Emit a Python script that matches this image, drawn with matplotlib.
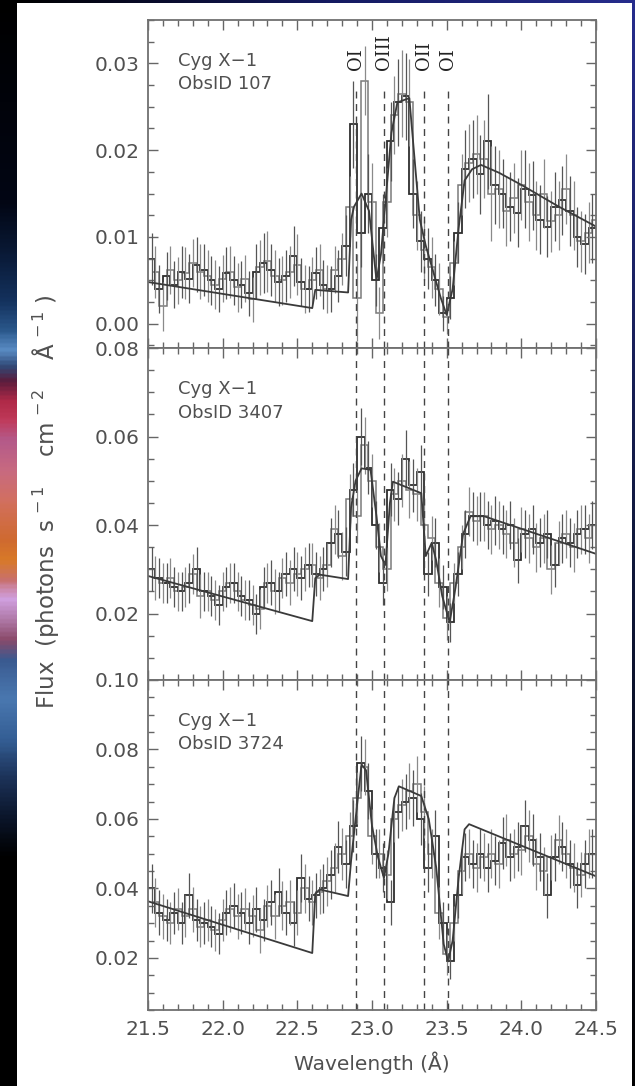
import numpy as np
import matplotlib.pyplot as plt
from matplotlib.colors import LinearSegmentedColormap
from matplotlib.ticker import MultipleLocator, FormatStrFormatter

# bin centres (Angstrom) of the two interleaved grating spectra
wave_a = np.round(np.arange(21.525, 24.5, 0.05), 3)
wave_b = np.round(np.arange(21.55, 24.51, 0.05), 3)

# ObsID 107
flux107_a = [0.0075, 0.0040, 0.0055, 0.0045, 0.0060, 0.0052, 0.0068, 0.0062, 0.0050, 0.0040,
             0.0058, 0.0050, 0.0045, 0.0035, 0.0060, 0.0070, 0.0062, 0.0048, 0.0055, 0.0078,
             0.0048, 0.0040, 0.0058, 0.0045, 0.0040, 0.0055, 0.0090, 0.0230, 0.0105, 0.0150,
             0.0050, 0.0110, 0.0210, 0.0255, 0.0262, 0.0150, 0.0095, 0.0075, 0.0050, 0.0012,
             0.0030, 0.0105, 0.0178, 0.0190, 0.0172, 0.0210, 0.0160, 0.0150, 0.0135, 0.0128,
             0.0155, 0.0148, 0.0120, 0.0112, 0.0135, 0.0142, 0.0130, 0.0100, 0.0092, 0.0110]
flux107_b = [0.0060, 0.0020, 0.0062, 0.0050, 0.0058, 0.0070, 0.0060, 0.0055, 0.0045, 0.0052,
             0.0060, 0.0042, 0.0052, 0.0028, 0.0065, 0.0072, 0.0055, 0.0050, 0.0060, 0.0068,
             0.0040, 0.0050, 0.0062, 0.0040, 0.0062, 0.0075, 0.0135, 0.0030, 0.0280, 0.0140,
             0.0012, 0.0140, 0.0240, 0.0265, 0.0255, 0.0125, 0.0085, 0.0065, 0.0040, 0.0008,
             0.0070, 0.0160, 0.0185, 0.0195, 0.0190, 0.0150, 0.0155, 0.0130, 0.0145, 0.0160,
             0.0140, 0.0125, 0.0150, 0.0118, 0.0125, 0.0155, 0.0125, 0.0095, 0.0105, 0.0120]
err107 = [0.0030, 0.0028, 0.0028, 0.0027, 0.0030, 0.0028, 0.0032, 0.0030, 0.0028, 0.0027,
          0.0030, 0.0028, 0.0027, 0.0026, 0.0032, 0.0035, 0.0030, 0.0028, 0.0030, 0.0035,
          0.0028, 0.0027, 0.0030, 0.0028, 0.0027, 0.0030, 0.0035, 0.0050, 0.0040, 0.0045,
          0.0030, 0.0040, 0.0045, 0.0050, 0.0050, 0.0040, 0.0035, 0.0035, 0.0030, 0.0020,
          0.0025, 0.0035, 0.0045, 0.0045, 0.0045, 0.0055, 0.0045, 0.0040, 0.0040, 0.0040,
          0.0045, 0.0040, 0.0040, 0.0035, 0.0040, 0.0040, 0.0040, 0.0035, 0.0035, 0.0040]
model107_wave = [21.50, 22.60, 22.62, 22.84, 22.86, 22.88, 22.93, 22.98, 23.03, 23.06,
                 23.09, 23.13, 23.17, 23.25, 23.29, 23.32, 23.36, 23.41, 23.46, 23.50,
                 23.54, 23.58, 23.62, 23.67, 23.73, 23.85, 24.00, 24.25, 24.50]
model107_flux = [0.0048, 0.0018, 0.0039, 0.0036, 0.0120, 0.0135, 0.0150, 0.0130, 0.0050, 0.0080,
                 0.0140, 0.0220, 0.0255, 0.0260, 0.0180, 0.0120, 0.0090, 0.0060, 0.0030, 0.0010,
                 0.0040, 0.0110, 0.0165, 0.0178, 0.0183, 0.0174, 0.0160, 0.0135, 0.0112]

# ObsID 3407
flux3407_a = [0.030, 0.028, 0.027, 0.026, 0.025, 0.027, 0.030, 0.025, 0.024, 0.022,
              0.026, 0.027, 0.024, 0.023, 0.020, 0.026, 0.027, 0.025, 0.029, 0.030,
              0.028, 0.031, 0.029, 0.030, 0.036, 0.038, 0.034, 0.048, 0.060, 0.053,
              0.040, 0.027, 0.048, 0.046, 0.055, 0.049, 0.052, 0.029, 0.036, 0.026,
              0.018, 0.029, 0.038, 0.042, 0.042, 0.040, 0.041, 0.039, 0.040, 0.032,
              0.038, 0.039, 0.036, 0.038, 0.031, 0.037, 0.036, 0.038, 0.039, 0.040]
flux3407_b = [0.028, 0.027, 0.028, 0.025, 0.026, 0.029, 0.024, 0.025, 0.023, 0.025,
              0.027, 0.025, 0.023, 0.022, 0.021, 0.027, 0.025, 0.028, 0.027, 0.029,
              0.030, 0.031, 0.028, 0.031, 0.039, 0.033, 0.046, 0.042, 0.058, 0.050,
              0.035, 0.030, 0.047, 0.050, 0.048, 0.047, 0.040, 0.037, 0.027, 0.019,
              0.027, 0.035, 0.043, 0.041, 0.042, 0.039, 0.040, 0.038, 0.036, 0.039,
              0.037, 0.035, 0.037, 0.030, 0.036, 0.038, 0.035, 0.039, 0.037, 0.040]
err3407 = [0.0050, 0.0045, 0.0045, 0.0045, 0.0045, 0.0045, 0.0050, 0.0045, 0.0045, 0.0045,
           0.0045, 0.0045, 0.0045, 0.0045, 0.0045, 0.0045, 0.0050, 0.0045, 0.0050, 0.0050,
           0.0050, 0.0050, 0.0050, 0.0050, 0.0055, 0.0055, 0.0055, 0.0060, 0.0065, 0.0060,
           0.0055, 0.0050, 0.0060, 0.0060, 0.0065, 0.0060, 0.0060, 0.0050, 0.0055, 0.0050,
           0.0045, 0.0050, 0.0055, 0.0055, 0.0055, 0.0055, 0.0055, 0.0055, 0.0055, 0.0050,
           0.0055, 0.0055, 0.0055, 0.0055, 0.0050, 0.0055, 0.0055, 0.0055, 0.0055, 0.0055]
model3407_wave = [21.50, 22.60, 22.62, 22.65, 22.84, 22.86, 22.89, 22.93, 22.99, 23.03,
                  23.06, 23.09, 23.12, 23.14, 23.33, 23.36, 23.40, 23.43, 23.47, 23.52,
                  23.56, 23.61, 23.66, 23.75, 24.50]
model3407_flux = [0.0285, 0.0183, 0.0280, 0.0288, 0.0278, 0.0440, 0.0500, 0.0528, 0.0525, 0.0420,
                  0.0330, 0.0310, 0.0450, 0.0498, 0.0472, 0.0330, 0.0360, 0.0320, 0.0240, 0.0180,
                  0.0260, 0.0380, 0.0420, 0.0420, 0.0335]

# ObsID 3724
flux3724_a = [0.040, 0.033, 0.031, 0.033, 0.030, 0.038, 0.031, 0.030, 0.029, 0.027,
              0.033, 0.035, 0.033, 0.030, 0.034, 0.031, 0.036, 0.039, 0.033, 0.030,
              0.043, 0.037, 0.038, 0.040, 0.044, 0.052, 0.047, 0.058, 0.076, 0.068,
              0.050, 0.046, 0.036, 0.062, 0.065, 0.066, 0.060, 0.046, 0.055, 0.030,
              0.019, 0.038, 0.049, 0.047, 0.050, 0.046, 0.048, 0.053, 0.049, 0.052,
              0.058, 0.054, 0.049, 0.038, 0.049, 0.052, 0.047, 0.041, 0.047, 0.050]
flux3724_b = [0.036, 0.032, 0.030, 0.034, 0.032, 0.034, 0.029, 0.031, 0.028, 0.031,
              0.034, 0.032, 0.034, 0.032, 0.028, 0.035, 0.032, 0.035, 0.036, 0.033,
              0.040, 0.036, 0.039, 0.042, 0.046, 0.050, 0.055, 0.066, 0.075, 0.055,
              0.050, 0.044, 0.060, 0.064, 0.068, 0.070, 0.062, 0.050, 0.033, 0.021,
              0.030, 0.045, 0.050, 0.046, 0.049, 0.050, 0.047, 0.054, 0.050, 0.051,
              0.055, 0.047, 0.045, 0.049, 0.054, 0.050, 0.046, 0.044, 0.050, 0.050]
err3724 = [0.0070, 0.0065, 0.0060, 0.0060, 0.0060, 0.0065, 0.0060, 0.0060, 0.0060, 0.0060,
           0.0065, 0.0065, 0.0060, 0.0060, 0.0065, 0.0060, 0.0065, 0.0070, 0.0065, 0.0065,
           0.0070, 0.0065, 0.0065, 0.0070, 0.0070, 0.0075, 0.0070, 0.0075, 0.0080, 0.0080,
           0.0070, 0.0070, 0.0065, 0.0075, 0.0080, 0.0080, 0.0075, 0.0070, 0.0075, 0.0060,
           0.0050, 0.0065, 0.0070, 0.0070, 0.0070, 0.0070, 0.0070, 0.0075, 0.0070, 0.0070,
           0.0075, 0.0075, 0.0070, 0.0065, 0.0070, 0.0070, 0.0070, 0.0065, 0.0070, 0.0070]
model3724_wave = [21.50, 22.60, 22.62, 22.65, 22.84, 22.86, 22.90, 22.93, 22.96, 23.00,
                  23.04, 23.08, 23.11, 23.15, 23.18, 23.33, 23.38, 23.43, 23.48, 23.51,
                  23.54, 23.58, 23.62, 23.65, 24.50]
model3724_flux = [0.0363, 0.0214, 0.0385, 0.0397, 0.0378, 0.0480, 0.0640, 0.0757, 0.0740, 0.0580,
                  0.0490, 0.0430, 0.0500, 0.0660, 0.0694, 0.0666, 0.0600, 0.0460, 0.0240, 0.0190,
                  0.0250, 0.0430, 0.0570, 0.0585, 0.0435]

# oxygen features
line_wave = [22.89, 23.08, 23.35, 23.51]
line_name = ['OI', 'OIII', 'OII', 'OI']

obsids = ['107', '3407', '3724']
ylims = [(-0.0028, 0.035), (0.005, 0.08), (0.005, 0.10)]
ymajor = [0.01, 0.02, 0.02]
yminor = [0.0025, 0.005, 0.005]

W, H = 635, 1086
fig = plt.figure(figsize=(W / 100, H / 100), dpi=100, facecolor='white')

# border strips of the slide background
strip_stops = [(0, '#000000'), (200, '#020614'), (260, '#0b1d3c'), (300, '#14325e'),
               (330, '#2c5a8e'), (350, '#5a8cc4'), (365, '#304a78'), (380, '#5a1c3c'),
               (400, '#b02a48'), (420, '#c03a5a'), (440, '#b45a8a'), (470, '#c86a80'),
               (500, '#d27060'), (540, '#cf6a30'), (560, '#d87a28'), (580, '#c87070'),
               (600, '#d0a0e0'), (620, '#b07aa8'), (640, '#8a4a6a'), (660, '#3a5a90'),
               (700, '#4a78b0'), (740, '#345e94'), (780, '#1c3258'), (820, '#0a1428'),
               (860, '#000000'), (H, '#000000')]
strip_cmap = LinearSegmentedColormap.from_list('strip', [(p / H, c) for p, c in strip_stops])
sl = fig.add_axes([0, 0, 17 / W, 1])
sl.imshow(np.linspace(0, 1, 500)[:, None], aspect='auto', cmap=strip_cmap, interpolation='bilinear')
sl.axis('off')

top_cmap = LinearSegmentedColormap.from_list('top', ['#000000', '#141a60', '#262c8c'])
st = fig.add_axes([17 / W, 1 - 3 / H, 1 - 17 / W, 3 / H])
st.imshow(np.linspace(0, 1, 300)[None, :], aspect='auto', cmap=top_cmap)
st.axis('off')

right_cmap = LinearSegmentedColormap.from_list('right', ['#262c8c', '#10183c', '#000000'])
sr = fig.add_axes([632 / W, 0, 3 / W, 1 - 3 / H])
sr.imshow(np.linspace(0, 1, 300)[:, None], aspect='auto', cmap=right_cmap)
sr.axis('off')

# panel boundaries in pixels from the top
bounds = [20, 348, 680, 1010]
panels = [
    (flux107_a, flux107_b, err107, model107_wave, model107_flux),
    (flux3407_a, flux3407_b, err3407, model3407_wave, model3407_flux),
    (flux3724_a, flux3724_b, err3724, model3724_wave, model3724_flux),
]

edges_a = np.append(wave_a - 0.025, wave_a[-1] + 0.025)
edges_b = np.append(wave_b - 0.025, wave_b[-1] + 0.025)

txt = '#505050'
axes = []
for k, (fa, fb, err, mw, mf) in enumerate(panels):
    y0, y1 = bounds[k], bounds[k + 1]
    ax = fig.add_axes([148 / W, 1 - y1 / H, 448 / W, (y1 - y0) / H])
    axes.append(ax)

    ax.errorbar(wave_b, fb, yerr=err, fmt='none', ecolor='#8a8a8a', elinewidth=0.9)
    ax.errorbar(wave_a, fa, yerr=err, fmt='none', ecolor='#555555', elinewidth=0.9)
    ax.stairs(fb, edges_b, baseline=None, color='#7a7a7a', lw=1.1)
    ax.stairs(fa, edges_a, baseline=None, color='#2e2e2e', lw=1.3)
    ax.plot(mw, mf, color='#3a3a3a', lw=1.3)

    ax.set_xlim(21.5, 24.5)
    ax.set_ylim(*ylims[k])
    if k == 0:
        ax.vlines(line_wave, ylims[k][0], 0.0268, colors='#444444', lw=1.0,
                  linestyles=(0, (5, 4)))
        for lw_, nm in zip(line_wave, line_name):
            ax.text(lw_, 0.0292, nm, rotation=90, ha='center', va='bottom',
                    family='DejaVu Serif', fontsize=13, color='#222222')
    else:
        for lw_ in line_wave:
            ax.axvline(lw_, color='#444444', lw=1.0, ls=(0, (5, 4)))

    ax.text(0.067, 0.875, 'Cyg X−1', transform=ax.transAxes, fontsize=13,
            color=txt, ha='left', va='center')
    ax.text(0.067, 0.805, 'ObsID ' + obsids[k], transform=ax.transAxes, fontsize=13,
            color=txt, ha='left', va='center')

    ax.xaxis.set_major_locator(MultipleLocator(0.5))
    ax.xaxis.set_minor_locator(MultipleLocator(0.1))
    ax.yaxis.set_major_locator(MultipleLocator(ymajor[k]))
    ax.yaxis.set_minor_locator(MultipleLocator(yminor[k]))
    ax.yaxis.set_major_formatter(FormatStrFormatter('%.2f'))
    ax.xaxis.set_major_formatter(FormatStrFormatter('%.1f'))
    ax.tick_params(which='both', direction='in', top=True, right=True,
                   color='#666666', labelcolor=txt, labelsize=14.5, width=1.0)
    ax.tick_params(which='major', length=7)
    ax.tick_params(which='minor', length=4)
    ax.tick_params(axis='y', pad=6)
    ax.tick_params(axis='x', pad=7, labelbottom=(k == 2))
    for s in ax.spines.values():
        s.set_color('#707070')
        s.set_linewidth(1.3)

fig.text(0.072, 1 - 502 / H,
         'Flux  (photons  s$^{\\,-1}$    cm$^{\\,-2}$    Å$^{\\,-1}$ )',
         rotation=90, ha='center', va='center', fontsize=16.5, color=txt)
fig.text(372 / W, 1 - 1063 / H, 'Wavelength (Å)', ha='center', va='center',
         fontsize=14.5, color=txt)

fig.savefig('out.png', dpi=100, facecolor=fig.get_facecolor())
